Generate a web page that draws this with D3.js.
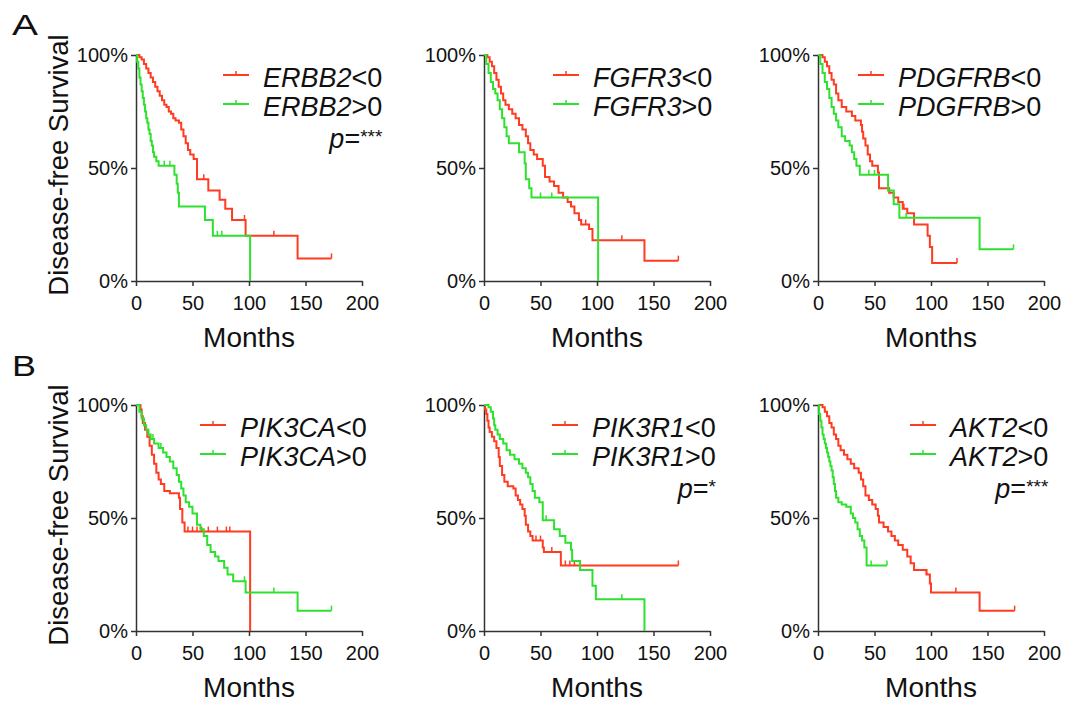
<!DOCTYPE html>
<html>
<head>
<meta charset="utf-8">
<script src="https://cdn.jsdelivr.net/npm/d3@7"></script>
<style>
  body { margin: 0; background: #fff; }
  svg { font-family: "Liberation Sans", Arial, Helvetica, sans-serif; }
</style>
</head>
<body>
<script>
// Kaplan-Meier step points [months, % surviving], last point = end of follow-up
const ERBB2_lo = [[0,100],[3,99],[5,98],[7,96],[9,94],[11,92],[13,90],[15,88],[17,86],[19,84],[21,82],[23,80],[25,78],[27,77],[29,75],[31,74],[33,72],[35,71],[38,70],[40,67],[42,64],[44,61],[46,58],[48,56],[51,54],[54,45],[64,40],[74,36],[79,32],[85,27],[97,20],[143,10],[173,10]];
const ERBB2_hi = [[0,100],[1,97],[2,94],[3,90],[4,87],[5,84],[6,81],[7,78],[8,75],[9,72],[10,70],[11,67],[12,65],[13,62],[14,60],[15,57],[16,55],[18,53],[20,51],[34,47],[36,43],[37,39],[38,33],[61,27],[68,20],[101,0]];
const FGFR3_lo = [[0,100],[3,99],[5,97],[7,95],[9,92],[11,89],[13,86],[15,83],[17,80],[19,78],[22,76],[25,74],[28,72],[31,69],[34,67],[37,64],[39,61],[41,58],[44,56],[47,54],[52,51],[54,46],[58,44],[62,42],[66,39],[70,37],[74,35],[77,33],[80,30],[84,27],[86,25],[93,23],[96,18],[142,9],[172,9]];
const FGFR3_hi = [[0,100],[2,96],[4,92],[6,88],[8,85],[10,83],[12,80],[14,76],[16,72],[18,68],[20,64],[22,61],[31,57],[36,52],[37,45],[40,41],[42,37],[101,0]];
const PDGFRB_lo = [[0,100],[4,99],[6,97],[8,95],[10,92],[12,89],[14,87],[16,83],[18,80],[21,77],[25,75],[30,73],[33,71],[38,69],[39,66],[40,63],[42,60],[44,56],[46,53],[48,51],[53,48],[54,41],[63,39],[67,37],[71,35],[75,32],[79,30],[85,25],[97,20],[99,15],[101,8],[123,8]];
const PDGFRB_hi = [[0,100],[2,96],[4,92],[6,88],[8,85],[10,81],[12,77],[14,74],[16,71],[18,68],[21,64],[24,62],[28,60],[30,57],[32,54],[34,51],[37,47],[62,40],[67,34],[72,28],[143,14],[173,14]];
const PIK3CA_lo = [[0,100],[4,98],[5,95],[6,92],[8,89],[10,86],[12,82],[14,78],[16,74],[18,70],[20,67],[22,65],[25,62],[30,61],[38,59],[39,54],[41,48],[43,44],[101,0]];
const PIK3CA_hi = [[0,100],[3,97],[5,94],[7,91],[9,89],[11,87],[13,85],[16,83],[20,81],[24,79],[27,77],[30,75],[33,72],[36,69],[38,66],[40,63],[42,60],[44,57],[47,55],[50,52],[54,47],[57,45],[60,42],[63,38],[66,35],[70,33],[73,31],[78,28],[81,25],[86,22],[97,17],[143,9],[173,9]];
const PIK3R1_lo = [[0,100],[1,98],[2,96],[3,93],[4,90],[5,88],[7,86],[9,84],[11,81],[13,77],[14,73],[16,69],[18,66],[21,64],[26,63],[28,60],[30,58],[32,56],[34,54],[36,51],[37,47],[39,44],[41,42],[43,40],[52,37],[53,35],[68,29],[172,29]];
const PIK3R1_hi = [[0,100],[4,99],[6,97],[8,94],[9,91],[10,89],[12,87],[14,85],[17,83],[20,80],[23,78],[27,76],[31,74],[34,72],[37,70],[39,68],[41,65],[43,62],[45,59],[49,57],[52,49],[62,45],[67,42],[72,39],[77,36],[78,31],[85,27],[96,20],[99,14],[142,0]];
const AKT2_lo = [[0,100],[4,99],[6,97],[8,95],[10,92],[12,90],[14,87],[16,85],[18,82],[20,80],[23,78],[26,76],[29,74],[32,72],[36,70],[38,67],[40,64],[42,60],[45,58],[48,56],[51,54],[53,51],[54,48],[58,46],[62,44],[65,42],[68,40],[71,38],[75,36],[79,33],[82,30],[85,27],[96,25],[99,21],[100,17],[143,9],[174,9]];
const AKT2_hi = [[0,100],[1,96],[2,93],[3,90],[4,87],[5,85],[6,83],[7,81],[8,79],[9,77],[10,75],[11,73],[12,71],[13,68],[14,65],[15,62],[16,59],[18,57],[21,56],[25,55],[29,52],[31,50],[33,48],[35,45],[37,42],[39,40],[41,37],[43,29],[61,29]];

// censored times (months)
const ERBB2_lo_cens = [60, 96, 122, 173];
const ERBB2_hi_cens = [25, 30, 72, 76];
const FGFR3_lo_cens = [90, 122, 172];
const FGFR3_hi_cens = [50, 60];
const PDGFRB_lo_cens = [76, 123];
const PDGFRB_hi_cens = [45, 50, 78, 173];
const PIK3CA_lo_cens = [46, 50, 54, 58, 64, 72, 80, 83];
const PIK3CA_hi_cens = [15, 22, 96, 122, 173];
const PIK3R1_lo_cens = [46, 50, 60, 72, 76, 80, 172];
const PIK3R1_hi_cens = [55, 122];
const AKT2_lo_cens = [96, 122, 174];
const AKT2_hi_cens = [47, 61];

const genes = ["ERBB2", "FGFR3", "PDGFRB", "PIK3CA", "PIK3R1", "AKT2"];
const pLabels = ["***", "", "", "", "*", "***"];
const xTicks = [0, 50, 100, 150, 200];
const yTicks = [0, 50, 100];

const series = {
  ERBB2: [ERBB2_lo, ERBB2_hi, ERBB2_lo_cens, ERBB2_hi_cens],
  FGFR3: [FGFR3_lo, FGFR3_hi, FGFR3_lo_cens, FGFR3_hi_cens],
  PDGFRB: [PDGFRB_lo, PDGFRB_hi, PDGFRB_lo_cens, PDGFRB_hi_cens],
  PIK3CA: [PIK3CA_lo, PIK3CA_hi, PIK3CA_lo_cens, PIK3CA_hi_cens],
  PIK3R1: [PIK3R1_lo, PIK3R1_hi, PIK3R1_lo_cens, PIK3R1_hi_cens],
  AKT2: [AKT2_lo, AKT2_hi, AKT2_lo_cens, AKT2_hi_cens]
};

// layout
const width = 1066, height = 702;
const colX = [136, 484, 818];
const rowY = [55, 405];
const plotW = 226, plotH = 226;
const legendOff = [87, 69, 40, 64, 68, 92];
const red = "#ff3b22", green = "#2fe12f";

const svg = d3.select("body").append("svg")
  .attr("width", width)
  .attr("height", height);

const x = d3.scaleLinear().domain([0, 200]).range([0, plotW]);
const y = d3.scaleLinear().domain([0, 100]).range([plotH, 0]);

const line = d3.line()
  .x(d => x(d[0]))
  .y(d => y(d[1]))
  .curve(d3.curveStepAfter);

function survAt(pts, t) {
  let s = pts[0][1];
  for (const p of pts) if (p[0] <= t) s = p[1];
  return s;
}

genes.forEach((gene, i) => {
  const col = i % 3, row = Math.floor(i / 3);
  const g = svg.append("g").attr("transform", `translate(${colX[col]},${rowY[row]})`);
  const [lo, hi, loC, hiC] = series[gene];

  // axes
  const xa = g.append("g").attr("transform", `translate(0,${plotH})`)
    .call(d3.axisBottom(x).tickValues(xTicks).tickSize(5).tickSizeOuter(0).tickPadding(10));
  const ya = g.append("g")
    .call(d3.axisLeft(y).tickValues(yTicks).tickSize(5).tickSizeOuter(0).tickPadding(3).tickFormat(d => d + "%"));
  [xa, ya].forEach(a => {
    a.selectAll("path, line").attr("stroke", "#333").attr("stroke-width", 1.5);
    a.selectAll("text").attr("font-size", 20).attr("fill", "#111")
      .attr("font-family", "'Liberation Sans', Arial, sans-serif");
  });

  // curves
  [[lo, loC, red], [hi, hiC, green]].forEach(([pts, cens, c]) => {
    g.append("path").datum(pts)
      .attr("d", line)
      .attr("fill", "none")
      .attr("stroke", c)
      .attr("stroke-width", 2);
    g.selectAll(null).data(cens).join("line")
      .attr("x1", d => x(d)).attr("x2", d => x(d))
      .attr("y1", d => y(survAt(pts, d)))
      .attr("y2", d => y(survAt(pts, d)) - 5)
      .attr("stroke", c)
      .attr("stroke-width", 1.5);
  });

  // legend
  const lx = legendOff[i];
  let rightEdge = 0;
  [["<0", red, 32], [">0", green, 61]].forEach(([suffix, c, by]) => {
    g.append("line")
      .attr("x1", lx).attr("x2", lx + 26)
      .attr("y1", by - 12).attr("y2", by - 12)
      .attr("stroke", c).attr("stroke-width", 2);
    g.append("line")
      .attr("x1", lx + 13).attr("x2", lx + 13)
      .attr("y1", by - 12).attr("y2", by - 16)
      .attr("stroke", c).attr("stroke-width", 1.5);
    const t = g.append("text")
      .attr("x", lx + 40).attr("y", by)
      .attr("font-size", 27).attr("fill", "#111");
    t.append("tspan").attr("font-style", "italic").text(gene);
    t.append("tspan").text(suffix);
    rightEdge = Math.max(rightEdge, lx + 40 + t.node().getComputedTextLength());
  });
  if (pLabels[i]) {
    const pt = g.append("text")
      .attr("x", rightEdge).attr("y", 93)
      .attr("text-anchor", "end")
      .attr("font-size", 27).attr("fill", "#111");
    pt.append("tspan").attr("font-style", "italic").text("p");
    pt.append("tspan").text("=");
    pt.append("tspan").attr("font-size", 19).attr("dy", -5).text(pLabels[i]);
  }

  // x label
  g.append("text")
    .attr("x", plotW / 2).attr("y", plotH + 66)
    .attr("text-anchor", "middle")
    .attr("font-size", 28).attr("fill", "#111")
    .text("Months");

  // y label (left column only)
  if (col === 0) {
    g.append("text")
      .attr("transform", `translate(-68,${plotH / 2 - 3}) rotate(-90)`)
      .attr("text-anchor", "middle")
      .attr("font-size", 27.5).attr("fill", "#111")
      .text("Disease-free Survival");
  }
});

// panel letters
svg.append("text").attr("x", 12).attr("y", 35)
  .attr("font-size", 30).attr("textLength", 26).attr("lengthAdjust", "spacingAndGlyphs")
  .attr("fill", "#111").text("A");
svg.append("text").attr("x", 12).attr("y", 376)
  .attr("font-size", 30).attr("textLength", 24).attr("lengthAdjust", "spacingAndGlyphs")
  .attr("fill", "#111").text("B");
</script>
</body>
</html>
